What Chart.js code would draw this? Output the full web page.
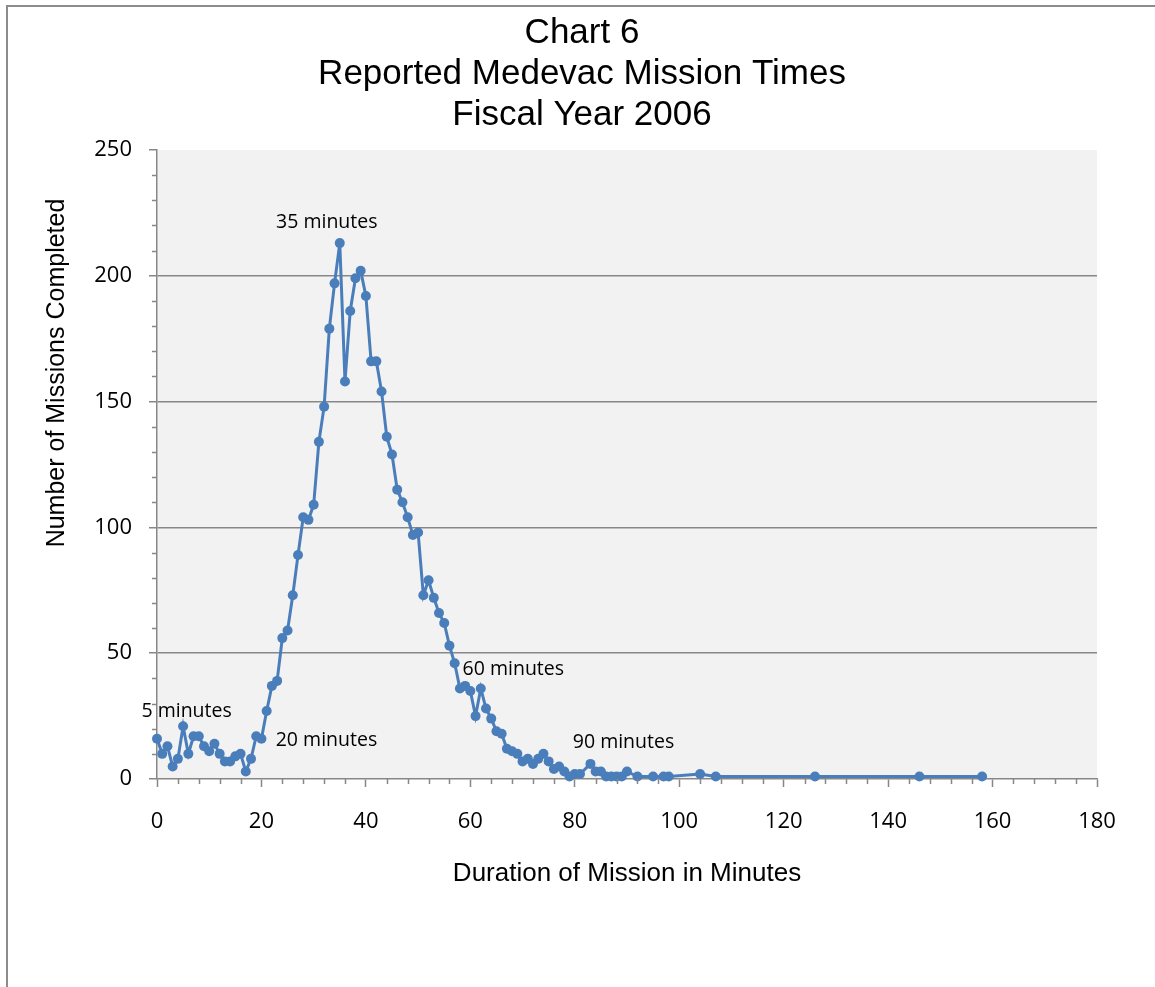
<!DOCTYPE html>
<html>
<head>
<meta charset="utf-8">
<script src="https://cdn.jsdelivr.net/npm/chart.js@4.4.1/dist/chart.umd.min.js"></script>
<style>
  html, body { margin: 0; padding: 0; background: #ffffff; }
  #wrap { position: relative; width: 1155px; height: 987px; overflow: hidden; }
  #frame { position: absolute; left: 6px; top: 5px; right: -10px; bottom: -10px;
           border-left: 2px solid #8c8c8c; border-top: 2px solid #8c8c8c; pointer-events: none; }
  #chart { position: absolute; left: 0; top: 0; }
</style>
</head>
<body>
<div id="wrap">
  <div id="frame"></div>
  <canvas id="chart" width="1155" height="987"></canvas>
</div>
<script>
// Duration of mission (minutes) and number of missions completed at that duration
const minutes = [
  0, 1, 2, 3, 4, 5, 6, 7, 8, 9,
  10, 11, 12, 13, 14, 15, 16, 17, 18, 19,
  20, 21, 22, 23, 24, 25, 26, 27, 28, 29,
  30, 31, 32, 33, 34, 35, 36, 37, 38, 39,
  40, 41, 42, 43, 44, 45, 46, 47, 48, 49,
  50, 51, 52, 53, 54, 55, 56, 57, 58, 59,
  60, 61, 62, 63, 64, 65, 66, 67, 68, 69,
  70, 71, 72, 73, 74, 75, 76, 77, 78, 79,
  80, 81, 83, 84, 85, 86, 87, 88, 89, 90,
  92, 95, 97, 98, 104, 107, 126, 146, 158
];
const missions = [
  16, 10, 13, 5, 8, 21, 10, 17, 17, 13,
  11, 14, 10, 7, 7, 9, 10, 3, 8, 17,
  16, 27, 37, 39, 56, 59, 73, 89, 104, 103,
  109, 134, 148, 179, 197, 213, 158, 186, 199, 202,
  192, 166, 166, 154, 136, 129, 115, 110, 104, 97,
  98, 73, 79, 72, 66, 62, 53, 46, 36, 37,
  35, 25, 36, 28, 24, 19, 18, 12, 11, 10,
  7, 8, 6, 8, 10, 7, 4, 5, 3, 1,
  2, 2, 6, 3, 3, 1, 1, 1, 1, 3,
  1, 1, 1, 1, 2, 1, 1, 1, 1
];

// Axis tick values
const xTickValues = [0, 20, 40, 60, 80, 100, 120, 140, 160, 180];
const yTickValues = [0, 50, 100, 150, 200, 250];

// Durations called out on the chart
const calloutMinutes = [5, 20, 35, 60, 90];

const titleLines = ['Chart 6', 'Reported Medevac Mission Times', 'Fiscal Year 2006'];
const xAxisTitle = 'Duration of Mission in Minutes';
const yAxisTitle = 'Number of Missions Completed';

const axisGrey = '#878787';
const seriesBlue = '#4a7ebb';

// Shaded plot area
const plotBackground = {
  id: 'plotBackground',
  beforeDraw(chart, args, opts) {
    const { ctx, chartArea: a } = chart;
    ctx.save();
    ctx.fillStyle = opts.color;
    ctx.fillRect(a.left, a.top, a.right - a.left, a.bottom - a.top);
    ctx.restore();
  }
};

// Short minor tick marks between the labelled ticks
const minorTicks = {
  id: 'minorTicks',
  afterDraw(chart, args, opts) {
    const { ctx } = chart;
    const xs = chart.scales.x, ys = chart.scales.y;
    ctx.save();
    ctx.strokeStyle = opts.color;
    ctx.lineWidth = opts.width;
    ctx.beginPath();
    for (let v = xs.min; v <= xs.max; v += opts.xStep) {
      if (xTickValues.includes(v)) continue;
      const px = Math.round(xs.getPixelForValue(v)) + 0.5;
      ctx.moveTo(px, ys.bottom);
      ctx.lineTo(px, ys.bottom + opts.length);
    }
    for (let v = ys.min; v <= ys.max; v += opts.yStep) {
      if (yTickValues.includes(v)) continue;
      const py = Math.round(ys.getPixelForValue(v)) + 0.5;
      ctx.moveTo(xs.left, py);
      ctx.lineTo(xs.left - opts.length, py);
    }
    ctx.stroke();
    ctx.restore();
  }
};

// Vertical axis title and the duration call-outs
const chartText = {
  id: 'chartText',
  afterDraw(chart, args, opts) {
    const { ctx } = chart;
    const xs = chart.scales.x, ys = chart.scales.y;
    ctx.save();
    ctx.fillStyle = '#000000';
    ctx.textAlign = 'center';
    ctx.textBaseline = 'middle';

    ctx.save();
    ctx.font = opts.yTitleFont;
    ctx.translate(opts.yTitleX, opts.yTitleY);
    ctx.rotate(-Math.PI / 2);
    ctx.fillText(yAxisTitle, 0, 0);
    ctx.restore();

    ctx.font = opts.calloutFont;
    calloutMinutes.forEach((m, i) => {
      const idx = minutes.indexOf(m);
      const px = xs.getPixelForValue(m);
      const py = ys.getPixelForValue(missions[idx]);
      const [dx, dy] = opts.offsets[i];
      ctx.fillText(m + ' minutes', px + dx, py + dy);
    });
    ctx.restore();
  }
};

const points = minutes.map((m, i) => ({ x: m, y: missions[i] }));

new Chart(document.getElementById('chart'), {
  type: 'line',
  data: {
    datasets: [{
      data: points,
      borderColor: seriesBlue,
      backgroundColor: seriesBlue,
      borderWidth: 3,
      pointRadius: 5,
      pointBorderWidth: 0,
      pointBackgroundColor: seriesBlue,
      tension: 0,
      clip: false
    }]
  },
  options: {
    responsive: false,
    animation: false,
    events: [],
    layout: { padding: { left: 67, right: 58, top: 0, bottom: 0 } },
    plugins: {
      legend: { display: false },
      tooltip: { enabled: false },
      title: {
        display: true,
        text: titleLines,
        color: '#000000',
        font: { family: 'Liberation Sans', size: 35, weight: 'normal', lineHeight: 41 / 35 },
        padding: { top: 13, bottom: 14 }
      },
      plotBackground: { color: '#f2f2f2' },
      minorTicks: { color: axisGrey, width: 1.5, length: 5, xStep: 4, yStep: 10 },
      chartText: {
        yTitleFont: '25px "Liberation Sans"',
        yTitleX: 57,
        yTitleY: 373,
        calloutFont: '19.5px "Open Sans"',
        offsets: [[3.5, -15], [65, 2], [-13, -21], [43, -22], [-3.5, -29]]
      }
    },
    scales: {
      x: {
        type: 'linear',
        min: 0,
        max: 180,
        afterBuildTicks(scale) { scale.ticks = xTickValues.map(v => ({ value: v })); },
        afterFit(scale) { scale.height = 208; },
        ticks: {
          color: '#000000',
          padding: 22,
          font: { family: 'Open Sans', size: 22 }
        },
        grid: {
          drawOnChartArea: false,
          drawTicks: true,
          tickLength: 8,
          tickColor: axisGrey,
          tickWidth: 1.5
        },
        border: { display: true, color: axisGrey, width: 1.5 },
        title: {
          display: true,
          text: xAxisTitle,
          color: '#000000',
          font: { family: 'Liberation Sans', size: 26 },
          padding: { top: 0, bottom: 97.5 }
        }
      },
      y: {
        type: 'linear',
        min: 0,
        max: 250,
        afterBuildTicks(scale) { scale.ticks = yTickValues.map(v => ({ value: v })); },
        afterFit(scale) { scale.width = 90; },
        ticks: {
          color: '#000000',
          padding: 17,
          font: { family: 'Open Sans', size: 22 }
        },
        grid: {
          color: ctx => (ctx.tick && (ctx.tick.value === 0 || ctx.tick.value === 250)) ? 'rgba(0,0,0,0)' : axisGrey,
          lineWidth: 1.5,
          tickLength: 8,
          tickColor: axisGrey,
          tickWidth: 1.5
        },
        border: { display: true, color: axisGrey, width: 1.5 }
      }
    }
  },
  plugins: [plotBackground, minorTicks, chartText]
});
</script>
</body>
</html>
